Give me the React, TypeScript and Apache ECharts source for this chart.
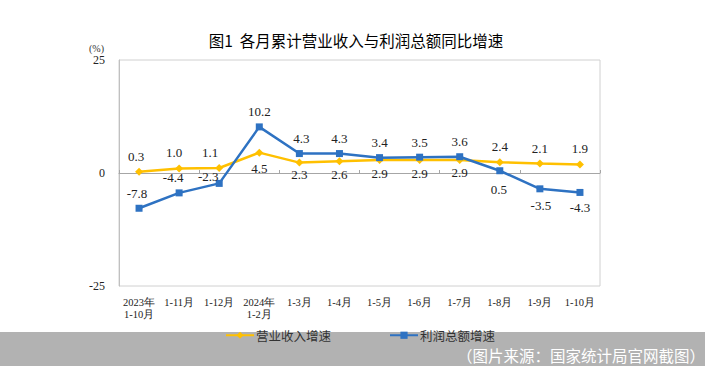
import React, { useEffect, useRef } from "react";
import * as echarts from "echarts";

const categories = [
  "2023年\n1-10月", "1-11月", "1-12月", "2024年\n1-2月", "1-3月", "1-4月",
  "1-5月", "1-6月", "1-7月", "1-8月", "1-9月", "1-10月",
];
const revenueGrowth = [0.3, 1.0, 1.1, 4.5, 2.3, 2.6, 2.9, 2.9, 2.9, 2.4, 2.1, 1.9];
const profitGrowth = [-7.8, -4.4, -2.3, 10.2, 4.3, 4.3, 3.4, 3.5, 3.6, 0.5, -3.5, -4.3];
const revenueName = "营业收入增速";
const profitName = "利润总额增速";
const yTicks = { min: -25, max: 25, interval: 25 };

// label placement (styling only)
const revenueLabelPos = ["top", "top", "top", "bottom", "bottom", "bottom", "bottom", "bottom", "bottom", "top", "top", "top"];
const revenueLabelOffset = [[-3, 0], [-5, 0], [-9, 0], [0, 0], [0, -4], [0, -2], [0, -2], [0, -2], [0, -3], [0, 0], [0, 0], [0, 0]];
const profitLabelPos = ["top", "top", "top", "top", "top", "top", "top", "top", "top", "bottom", "bottom", "bottom"];
const profitLabelOffset = [[-2, 0], [-6, 0], [-11, 8], [0, 0], [2, 0], [0, 0], [0, 0], [0, 0], [0, 0], [-1, 4], [1, 2], [0, 0]];

const SERIF = "'Times New Roman', 'Liberation Serif', 'DejaVu Serif', serif";
const CJK = "'Noto Sans CJK SC', 'Noto Sans', sans-serif";

export default function App() {
  const ref = useRef<HTMLDivElement>(null);
  useEffect(() => {
    if (!ref.current) return;
    const chart = echarts.init(ref.current, undefined, { renderer: "svg" });
    const labelBase = {
      show: true,
      fontFamily: SERIF,
      fontSize: 13,
      color: "#222",
    };
    chart.setOption({
      animation: false,
      backgroundColor: "#fff",
      title: {
        text: "图1  各月累计营业收入与利润总额同比增速",
        left: 351,
        textAlign: "center",
        top: 27,
        textStyle: { fontFamily: CJK, fontSize: 15.5, fontWeight: "normal", color: "#000" },
      },
      grid: {
        left: 119,
        right: 105,
        top: 60,
        bottom: 80,
        show: true,
        borderColor: "#d0d0d0",
        borderWidth: 1,
      },
      legend: {
        left: 220,
        top: 324,
        itemWidth: 28,
        itemHeight: 9,
        itemGap: 58,
        textStyle: { fontFamily: CJK, fontSize: 12.5, color: "#333", padding: [0, 0, 0, -3] },
        data: [revenueName, profitName],
        z: 10,
      },
      xAxis: [
        {
          type: "category",
          data: categories,
          position: "bottom",
          axisLine: { show: false, onZero: false },
          axisTick: { show: false },
          axisLabel: {
            fontFamily: SERIF,
            fontSize: 10.5,
            color: "#222",
            margin: 10,
            interval: 0,
            lineHeight: 12,
          },
        },
        {
          type: "category",
          data: categories,
          position: "top",
          axisLine: { show: true, onZero: true, lineStyle: { color: "#a6a6a6", width: 1 } },
          axisTick: { show: true, length: 3, lineStyle: { color: "#a6a6a6" } },
          axisLabel: { show: false },
        },
      ],
      yAxis: {
        type: "value",
        min: yTicks.min,
        max: yTicks.max,
        interval: yTicks.interval,
        splitLine: { show: false },
        axisLine: { show: true, lineStyle: { color: "#c0c0c0" } },
        axisTick: { show: false },
        axisLabel: { fontFamily: SERIF, fontSize: 12, color: "#222", margin: 14 },
      },
      graphic: [
        {
          type: "text",
          left: 89,
          top: 43,
          style: { text: "(%)", fontFamily: SERIF, fontSize: 10, fill: "#333" },
        },
        {
          type: "rect",
          shape: { x: 0, y: 332, width: 705, height: 34 },
          style: { fill: "#b2b2b2" },
          z: -10,
          silent: true,
        },
        {
          type: "text",
          x: 705,
          y: 355,
          style: {
            text: "（图片来源：国家统计局官网截图）",
            fontFamily: CJK,
            fontSize: 15.5,
            fill: "#ffffff",
            textAlign: "right",
            textVerticalAlign: "middle",
          },
          z: 5,
        },
      ],
      series: [
        {
          name: revenueName,
          type: "line",
          xAxisIndex: 0,
          data: revenueGrowth.map((v, i) => ({
            value: v,
            label: { position: revenueLabelPos[i], offset: revenueLabelOffset[i] },
          })),
          symbol: "diamond",
          symbolSize: 8,
          color: "#FFC000",
          lineStyle: { width: 2.5, color: "#FFC000" },
          itemStyle: { color: "#FFC000" },
          label: { ...labelBase, formatter: (p: any) => Number(p.value).toFixed(1) },
          z: 3,
        },
        {
          name: profitName,
          type: "line",
          xAxisIndex: 0,
          data: profitGrowth.map((v, i) => ({
            value: v,
            label: { position: profitLabelPos[i], offset: profitLabelOffset[i] },
          })),
          symbol: "rect",
          symbolSize: 7,
          color: "#2E72C2",
          lineStyle: { width: 2.5, color: "#2E72C2" },
          itemStyle: { color: "#2E72C2" },
          label: { ...labelBase, formatter: (p: any) => Number(p.value).toFixed(1) },
          z: 4,
        },
      ],
    });
    return () => chart.dispose();
  }, []);
  return (
    <div
      ref={ref}
      style={{ position: "fixed", left: 0, top: 0, width: 705, height: 366 }}
    />
  );
}
